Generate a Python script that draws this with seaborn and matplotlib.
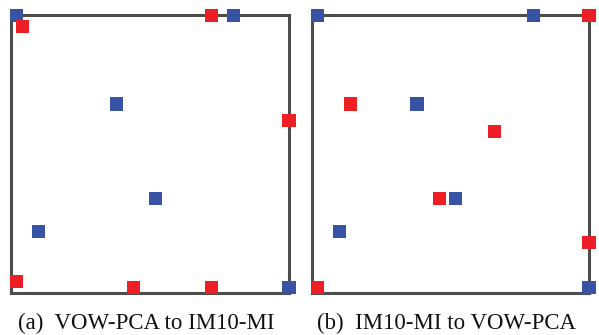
import matplotlib
matplotlib.use("Agg")
import matplotlib.pyplot as plt
import seaborn as sns
import pandas as pd

sns.set_theme(style="white")
plt.rcParams['font.family'] = ['Liberation Serif', 'DejaVu Serif']

# Panel (a): VOW-PCA to IM10-MI
blue_a_x = [0.02, 0.80, 0.38, 0.52, 0.10, 1.00]
blue_a_y = [1.00, 1.00, 0.68, 0.34, 0.22, 0.02]
red_a_x = [0.04, 0.72, 1.00, 0.02, 0.44, 0.72]
red_a_y = [0.96, 1.00, 0.62, 0.04, 0.02, 0.02]

# Panel (b): IM10-MI to VOW-PCA
blue_b_x = [0.02, 0.80, 0.38, 0.52, 0.10, 1.00]
blue_b_y = [1.00, 1.00, 0.68, 0.34, 0.22, 0.02]
red_b_x = [1.00, 0.14, 0.66, 0.46, 1.00, 0.02]
red_b_y = [1.00, 0.68, 0.58, 0.34, 0.18, 0.02]

captions = ["(a)  VOW-PCA to IM10-MI", "(b)  IM10-MI to VOW-PCA"]

BLUE = "#3953a4"
RED = "#ed1f24"
EDGE = "#4d4d4d"

fig = plt.figure(figsize=(5.99, 3.35), dpi=100)
W, H = 599, 335
boxes = [(11, 289), (311.7, 589)]
top_px, bot_px = 15.3, 292.7

panels = [(blue_a_x, blue_a_y, red_a_x, red_a_y), (blue_b_x, blue_b_y, red_b_x, red_b_y)]
for i, ((bx, by, rx, ry), (l, r)) in enumerate(zip(panels, boxes)):
    ax = fig.add_axes([l / W, (H - bot_px) / H, (r - l) / W, (bot_px - top_px) / H])
    df = pd.DataFrame({
        "x": bx + rx,
        "y": by + ry,
        "grp": ["blue"] * len(bx) + ["red"] * len(rx),
    })
    sns.scatterplot(data=df, x="x", y="y", hue="grp", palette={"blue": BLUE, "red": RED},
                    marker="s", s=90, linewidth=0, legend=False, ax=ax, clip_on=False, zorder=5)
    ax.set_xlim(0, 1)
    ax.set_ylim(0, 1)
    ax.set_xticks([])
    ax.set_yticks([])
    ax.set_xlabel("")
    ax.set_ylabel("")
    for sp in ax.spines.values():
        sp.set_visible(True)
        sp.set_color(EDGE)
        sp.set_linewidth(2.2)
        sp.set_zorder(3)
    cx = 146.5 if i == 0 else 446.5
    fig.text(cx / W, 1 - 323 / H, captions[i], ha="center", va="center",
             fontsize=16.5, color="#111111")

fig.savefig("out.png", dpi=100)
